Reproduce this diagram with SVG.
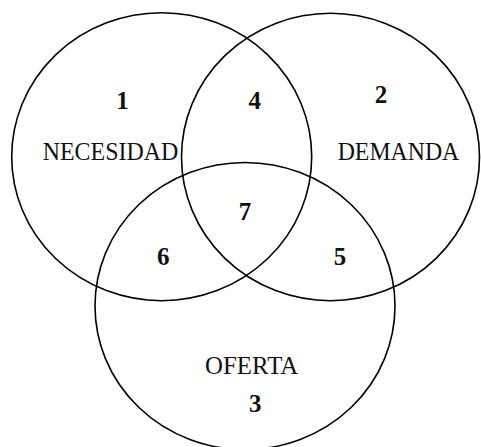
<svg xmlns="http://www.w3.org/2000/svg" width="481" height="447" viewBox="0 0 481 447">
<style>
.c{fill:none;stroke:#000;stroke-width:1.6}
.l{font-family:"Liberation Serif","Times New Roman",serif;font-size:26px;fill:#111;text-anchor:middle}
.n{font-family:"Liberation Serif","Times New Roman",serif;font-size:25px;font-weight:bold;fill:#111;text-anchor:middle}
</style>
<rect width="481" height="447" fill="#fff"/>
<g id="necesidad">
<ellipse class="c" cx="161.7" cy="156.7" rx="150" ry="144"/>
<text class="l" x="110.5" y="160" textLength="135.6" lengthAdjust="spacingAndGlyphs">NECESIDAD</text>
<text class="n" x="122.5" y="109">1</text>
</g>
<g id="demanda">
<ellipse class="c" cx="330.5" cy="157" rx="149" ry="143.7"/>
<text class="l" x="398.5" y="160" textLength="121.6" lengthAdjust="spacingAndGlyphs">DEMANDA</text>
<text class="n" x="381" y="103">2</text>
</g>
<g id="oferta">
<ellipse class="c" cx="245" cy="306" rx="150" ry="143.5"/>
<text class="l" x="251.7" y="374" textLength="93.3" lengthAdjust="spacingAndGlyphs">OFERTA</text>
<text class="n" x="255.3" y="412">3</text>
</g>
<g id="regions">
<text class="n" x="254.7" y="109">4</text>
<text class="n" x="340" y="265">5</text>
<text class="n" x="163.3" y="265">6</text>
<text class="n" x="245" y="220">7</text>
</g>
<g id="connectors"></g>
</svg>
